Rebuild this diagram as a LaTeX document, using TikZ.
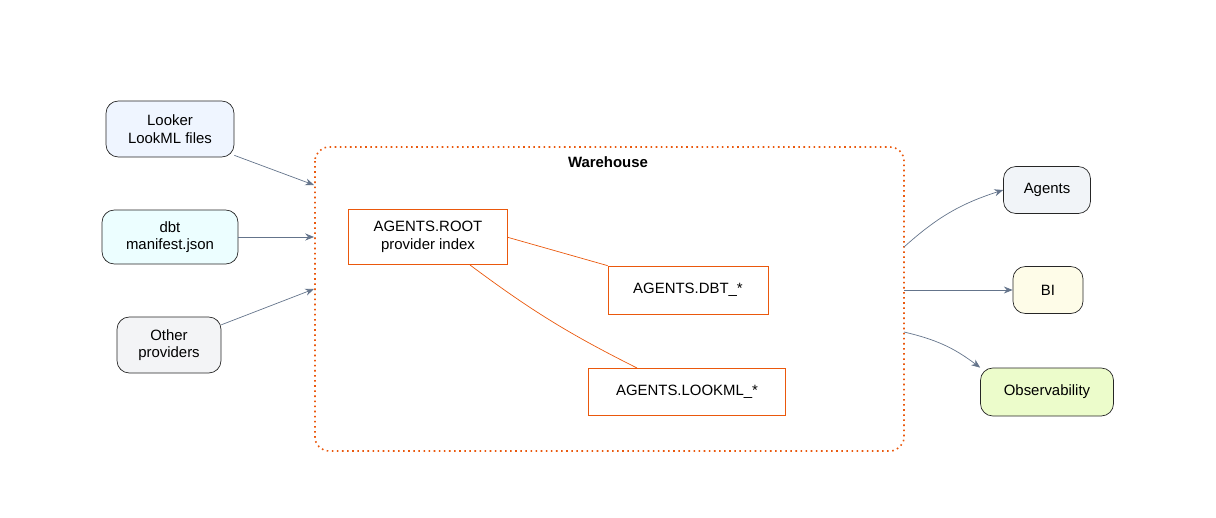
\documentclass[tikz,border=0pt]{standalone}
\usepackage{fontspec}
\setmainfont{Liberation Sans}
\usetikzlibrary{arrows.meta,positioning}
\definecolor{edgegray}{HTML}{64748B}
\definecolor{wareorange}{HTML}{EA580C}
\tikzset{
	src/.style={draw=black!85,rounded corners=7pt,align=center,inner sep=0pt,font=\fontsize{8.5}{10}\selectfont},
	tbl/.style={draw=wareorange,align=center,inner sep=0pt,font=\fontsize{8.5}{10}\selectfont},
	flow/.style={draw=edgegray,-{Stealth[length=5pt,width=4pt]}},
	link/.style={draw=wareorange}
}
\begin{document}
\begin{tikzpicture}[x=0.02cm,y=-0.02cm]
	\useasboundingbox (0,0) rectangle (1216,517);
	% warehouse cluster
	\draw[wareorange,dotted,line width=0.9pt,rounded corners=8pt] (315,147) rectangle (904,451);
	\node[font=\bfseries\fontsize{8.5}{10}\selectfont] (wh) at (608,162) {Warehouse};
	% sources
	\node[src,fill={rgb,255:red,239;green,245;blue,255},minimum width=128*0.02cm,minimum height=56*0.02cm] (looker) at (170,129) {Looker\\LookML files};
	\node[src,fill={rgb,255:red,236;green,254;blue,255},minimum width=136*0.02cm,minimum height=54*0.02cm] (dbt) at (170,237) {dbt\\manifest.json};
	\node[src,fill={rgb,255:red,243;green,244;blue,246},minimum width=104*0.02cm,minimum height=56*0.02cm] (other) at (169,345) {Other\\providers};
	% tables
	\node[tbl,minimum width=159*0.02cm,minimum height=55*0.02cm] (root) at (428,237) {AGENTS.ROOT\\provider index};
	\node[tbl,minimum width=160*0.02cm,minimum height=48*0.02cm] (dbttbl) at (688,290) {AGENTS.DBT\_*};
	\node[tbl,minimum width=197*0.02cm,minimum height=47*0.02cm] (lookml) at (687,392) {AGENTS.LOOKML\_*};
	% consumers
	\node[src,fill={rgb,255:red,241;green,244;blue,248},minimum width=87*0.02cm,minimum height=47*0.02cm] (agents) at (1047,190) {Agents};
	\node[src,fill={rgb,255:red,254;green,252;blue,232},minimum width=70*0.02cm,minimum height=47*0.02cm] (bi) at (1048,290) {BI};
	\node[src,fill={rgb,255:red,236;green,252;blue,203},minimum width=133*0.02cm,minimum height=48*0.02cm] (obs) at (1047,392) {Observability};
	% cluster ports
	\coordinate (inA) at (314,185);
	\coordinate (inB) at (314,237);
	\coordinate (inC) at (314,289);
	\coordinate (outA) at (904,247);
	\coordinate (outB) at (904,290);
	\coordinate (outC) at (904,332);
	% connectors
	\draw[flow] (looker.south east) ++(0,-2) -- (inA);
	\draw[flow] (dbt) -- (inB);
	\draw[flow] (other) -- (inC);
	\draw[flow] (outA) to[bend left=12] (agents.west);
	\draw[flow] (outB) -- (bi);
	\draw[flow] (outC) to[bend left=12] (obs.north west);
	\draw[link] (root.east) ++(0,17*0.02) -- (dbttbl.north west) ++(0,0);
	\draw[link] (470,265) to[bend right=5] (637,368);
\end{tikzpicture}
\end{document}
